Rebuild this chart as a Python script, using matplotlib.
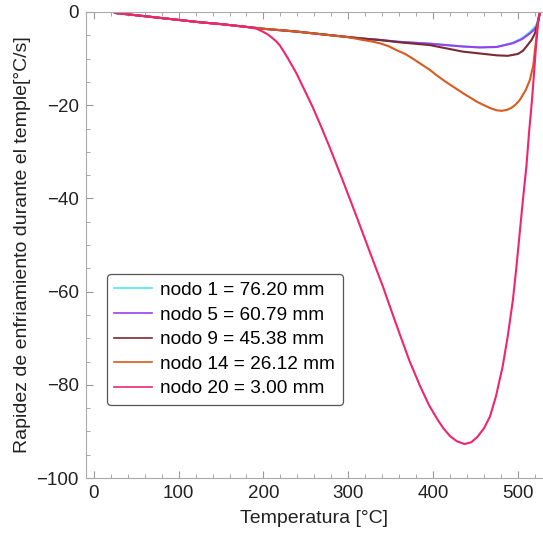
import matplotlib
matplotlib.use("Agg")
import matplotlib.pyplot as plt
from matplotlib.ticker import MultipleLocator

plt.rcParams['font.family'] = ['Liberation Sans', 'DejaVu Sans']

# Curves (temperature [°C], cooling rate [°C/s])
start_t = [25, 50, 75, 100, 125, 150, 175]
start_r = [-0.2, -0.7, -1.2, -1.7, -2.2, -2.6, -3.1]

t_nodo1 = start_t + [200, 239, 280, 317, 337, 360, 396, 435, 455, 475, 494, 505, 514, 519, 522, 524, 526]
r_nodo1 = start_r + [-3.6, -4.2, -5.0, -5.7, -6.0, -6.4, -6.8, -7.4, -7.6, -7.5, -6.6, -5.6, -4.3, -3.4, -2.6, -1.5, 0.0]

t_nodo5 = start_t + [200, 239, 280, 317, 337, 360, 396, 435, 455, 475, 494, 505, 514, 519, 522, 524, 526]
r_nodo5 = start_r + [-3.6, -4.2, -5.0, -5.7, -6.0, -6.4, -6.8, -7.4, -7.6, -7.5, -6.7, -5.8, -4.6, -3.8, -3.1, -1.8, 0.0]

t_nodo9 = start_t + [200, 239, 280, 317, 337, 360, 396, 435, 460, 475, 488, 500, 506, 510, 516, 520, 524, 526]
r_nodo9 = start_r + [-3.6, -4.2, -5.0, -5.7, -6.0, -6.5, -7.1, -8.5, -9.0, -9.3, -9.4, -9.0, -8.3, -7.4, -6.0, -4.6, -2.0, 0.0]

t_nodo14 = start_t + [200, 239, 280, 300, 317, 327, 337, 347, 357, 367, 376, 386, 396, 405, 415, 425,
                      435, 444, 452, 460, 467, 475, 481, 487, 492, 497, 502, 509, 514, 518, 520, 522, 523.6, 526]
r_nodo14 = start_r + [-3.6, -4.2, -5.0, -5.4, -6.0, -6.3, -6.7, -7.3, -8.2, -9.0, -10.0, -11.2, -12.4, -13.7, -15.0, -16.2,
                      -17.4, -18.4, -19.3, -20.0, -20.6, -21.1, -21.2, -21.0, -20.6, -19.9, -18.9, -16.8, -14.6, -11.5, -8.2, -5.0, -1.7, 0.0]

t_nodo20 = start_t + [184, 192, 199, 205, 210, 215, 219, 224, 229, 234, 239, 248, 258, 268, 278, 286, 294, 302, 311, 326,
                      341, 351, 361, 372, 384, 395, 405, 412, 420, 428, 437, 445, 452, 460, 467, 474, 482, 488, 494,
                      498, 502, 506, 510, 513, 516.5, 519, 521, 524, 526]
r_nodo20 = start_r + [-3.3, -3.6, -4.2, -4.8, -5.5, -6.3, -7.1, -8.5, -10.0, -11.6, -13.2, -16.6, -20.4, -24.6, -29.0, -32.7, -36.4, -40.2, -44.5, -51.8,
                      -59.0, -64.2, -69.3, -74.8, -80.0, -84.3, -87.4, -89.3, -91.0, -92.1, -92.7, -92.3, -91.2, -89.3, -86.8, -82.5, -76.0, -69.5, -61.8,
                      -55.0, -47.5, -40.0, -33.0, -26.0, -18.9, -13.0, -8.0, -1.5, 0.0]

labels = ["nodo 1 = 76.20 mm", "nodo 5 = 60.79 mm", "nodo 9 = 45.38 mm",
          "nodo 14 = 26.12 mm", "nodo 20 = 3.00 mm"]
colors = ["#4fe8f2", "#9a3ff0", "#7a2a35", "#d95a1e", "#f0256f"]

fig = plt.figure(figsize=(5.43, 5.33), dpi=100)
ax = fig.add_axes([0.158, 0.103, 0.842, 0.8745])

series = [(t_nodo1, r_nodo1), (t_nodo5, r_nodo5), (t_nodo9, r_nodo9),
          (t_nodo14, r_nodo14), (t_nodo20, r_nodo20)]
for (t, r), lab, c in zip(series, labels, colors):
    ax.plot(t, r, color=c, lw=1.5, label=lab, solid_joinstyle="round")

ax.set_xlim(-9.4, 529.5)
ax.set_ylim(-100, 0)

# Mathematica style frame: ticks inside, mirrored on top
ax.xaxis.set_major_locator(MultipleLocator(100))
ax.xaxis.set_minor_locator(MultipleLocator(20))
ax.yaxis.set_major_locator(MultipleLocator(20))
ax.yaxis.set_minor_locator(MultipleLocator(5))
ax.tick_params(which="both", direction="in", top=True, right=False,
               color="#999999", labelsize=13.5, labelcolor="#222222", pad=5)
ax.tick_params(which="major", length=5)
ax.tick_params(which="minor", length=3)
ax.spines["right"].set_visible(False)
for s in ["left", "bottom", "top"]:
    ax.spines[s].set_color("#aaaaaa")

ax.set_xlabel("Temperatura [°C]", fontsize=14, color="#222222", labelpad=6)
ax.set_ylabel("Rapidez de enfriamiento durante el temple[°C/s]", fontsize=14,
              color="#222222", labelpad=4)

leg = ax.legend(loc="lower left", bbox_to_anchor=(0.046, 0.157), borderaxespad=0,
                fontsize=13.7, frameon=True, fancybox=True, framealpha=1,
                edgecolor="#555555", handlelength=2.0, labelspacing=0.38,
                borderpad=0.4, handletextpad=0.4)
leg.get_frame().set_linewidth(0.9)
for line in leg.get_lines():
    line.set_linewidth(1.2)

fig.savefig("out.png", dpi=100)
